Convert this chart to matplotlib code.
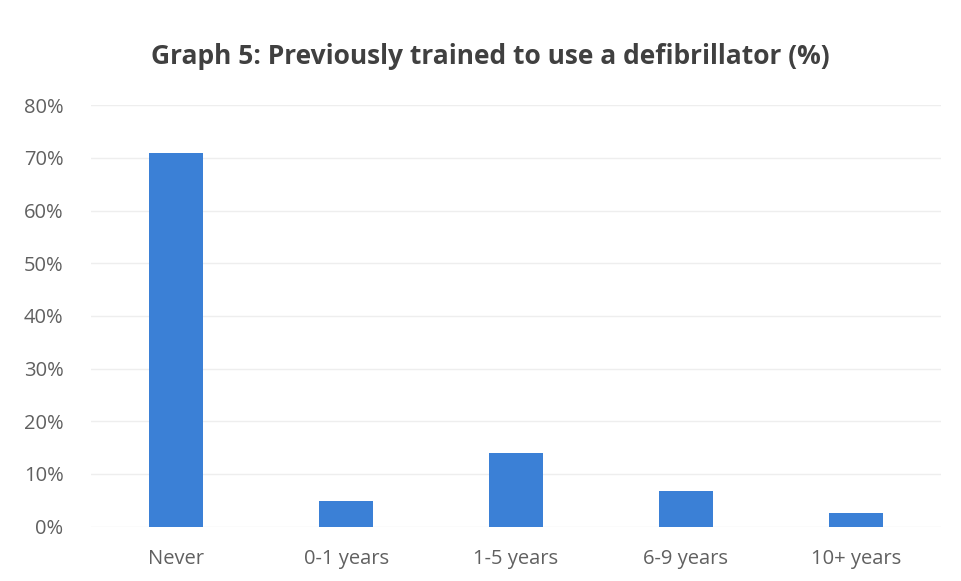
import matplotlib
matplotlib.use("Agg")
import matplotlib.pyplot as plt
from matplotlib.ticker import FuncFormatter

categories = ["Never", "0-1 years", "1-5 years", "6-9 years", "10+ years"]
percent = [71, 4.9, 14, 6.8, 2.6]
y_ticks = [0, 10, 20, 30, 40, 50, 60, 70, 80]

plt.rcParams["font.family"] = ["Open Sans", "DejaVu Sans"]

fig = plt.figure(figsize=(9.61, 5.81), dpi=100)
ax = fig.add_axes([0.095, 0.0935, 0.884, 0.7255])

x = range(len(categories))
ax.bar(x, percent, width=0.32, color="#3b80d6", zorder=3)

ax.set_xlim(-0.5, len(categories) - 0.5)
ax.set_ylim(0, 80)
ax.set_yticks(y_ticks)
ax.yaxis.set_major_formatter(FuncFormatter(lambda v, p: f"{v:.0f}%"))
ax.set_xticks(list(x))
ax.set_xticklabels(categories)
ax.grid(axis="y", color="#eeeeee", linewidth=1, zorder=0)
for s in ax.spines.values():
    s.set_visible(False)
ax.tick_params(length=0, labelsize=14.5, labelcolor="#606060")
ax.tick_params(axis="x", pad=16)
ax.tick_params(axis="y", pad=20)

fig.text(0.51, 0.902, "Graph 5: Previously trained to use a defibrillator (%)",
         ha="center", va="center", fontsize=19, fontweight="bold", color="#404040")

fig.savefig("out.png", dpi=100)
print("saved out.png")
